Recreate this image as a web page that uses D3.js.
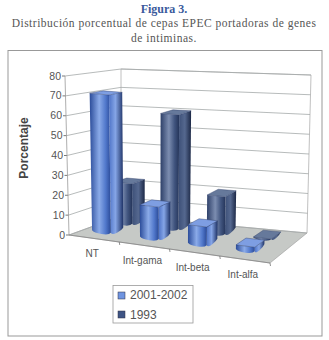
<!DOCTYPE html>
<html>
<head>
<meta charset="utf-8">
<script src="https://cdn.jsdelivr.net/npm/d3@7"></script>
<style>
body { margin: 0; background: #fff; }
svg { display: block; }
</style>
</head>
<body>
<svg id="chart"></svg>
<script>
const categories = ["NT", "Int-gama", "Int-beta", "Int-alfa"]
const seriesNames = ["2001-2002", "1993"]
const values2001 = [71, 17, 10, 3]
const values1993 = [22, 60, 20, 1]
const yTicks = [0, 10, 20, 30, 40, 50, 60, 70, 80]

const w = 329
const h = 340

const svg = d3.select("#chart").attr("width", w).attr("height", h)
const defs = svg.append("defs")

// corners of the 3d box, [x, y] on screen: front/back, left/right, floor/top
const box = {
    flb: [69, 235], frb: [270, 263], blb: [121, 216], brb: [307, 233],
    flt: [65, 76], frt: [274, 98], blt: [121, 69], brt: [311, 75]
}

const lerp = (a, b, t) => [a[0] + (b[0] - a[0]) * t, a[1] + (b[1] - a[1]) * t]

// u along categories, d into the depth, v up the value axis (all 0..1)
function project(u, d, v){
    const front = lerp(lerp(box.flb, box.frb, u), lerp(box.flt, box.frt, u), v)
    const back = lerp(lerp(box.blb, box.brb, u), lerp(box.blt, box.brt, u), v)
    return lerp(front, back, d)
}

const uScale = d3.scaleBand().domain(categories).range([-0.015, 0.955])
const dScale = d3.scaleBand().domain(seriesNames).range([0.22, 0.9]).paddingInner(0.42)
const vScale = d3.scaleLinear().domain([0, 80]).range([0, 1])
const barWidth = 0.095

const line = d3.line()
const pathOf = pts => line(pts) + "Z"

function gradient(id, stops){
    const g = defs.append("linearGradient").attr("id", id)
    stops.forEach(s => g.append("stop").attr("offset", s[0]).attr("stop-color", s[1]))
}
gradient("front0", [[0, "#2b4c9a"], [0.45, "#8aaae8"], [0.75, "#5279cc"], [1, "#2a4a98"]])
gradient("side0", [[0, "#4f74c8"], [0.45, "#85a5e6"], [1, "#1e3266"]])
gradient("front1", [[0, "#2d3f68"], [0.45, "#7c8db0"], [0.75, "#41557f"], [1, "#25355a"]])
gradient("side1", [[0, "#3d5078"], [0.5, "#55688f"], [1, "#1c2846"]])

const colorTop = ["#7e9ee2", "#66799b"]
const colorSwatch = ["#6f94e0", "#3e5484"]

const chart = svg.append("g")

// frame
svg.append("rect")
    .attr("x", 8).attr("y", 50.5).attr("width", 314).attr("height", 285.5)
    .attr("fill", "none").attr("stroke", "#999").attr("stroke-width", 1)

// floor and walls
chart.append("path")
    .attr("d", pathOf([project(0, 0, 0), project(1, 0, 0), project(1, 1, 0), project(0, 1, 0)]))
    .attr("fill", "#c6c9c6").attr("stroke", "#9a9a9a").attr("stroke-width", 0.6)

chart.append("path")
    .attr("d", line([project(0, 1, 0), project(0, 1, 1), project(1, 1, 1), project(1, 1, 0)]))
    .attr("fill", "none").attr("stroke", "#b0b0b0").attr("stroke-width", 0.8)

yTicks.forEach(t => {
    const v = vScale(t)
    chart.append("path")
        .attr("d", line([project(0, 0, v), project(0, 1, v), project(1, 1, v)]))
        .attr("fill", "none").attr("stroke", "#a5aaaa").attr("stroke-width", 0.8)

    const p = project(0, 0, v)
    chart.append("path")
        .attr("d", line([[p[0] - 3, p[1]], p]))
        .attr("stroke", "#555").attr("stroke-width", 0.8)
    chart.append("text")
        .attr("x", p[0] - 4).attr("y", p[1] + 3.5)
        .attr("text-anchor", "end")
        .attr("font-family", "Liberation Sans").attr("font-size", 10.5).attr("fill", "#555")
        .text(t)
})

// axis lines
chart.append("path")
    .attr("d", line([project(0, 0, 0), project(0, 0, 1)]))
    .attr("stroke", "#999").attr("stroke-width", 0.8)

chart.append("path")
    .attr("d", line([project(0, 0, 0), project(1, 0, 0)]))
    .attr("stroke", "#888").attr("stroke-width", 0.8)

categories.forEach((c, i) => {
    const p = project((i + 1) / categories.length, 0, 0)
    chart.append("path")
        .attr("d", line([p, [p[0] + 0.5, p[1] + 3]]))
        .attr("stroke", "#777").attr("stroke-width", 0.8)

    const l = project((i + 0.5) / categories.length, 0, 0)
    chart.append("text")
        .attr("x", l[0] - 2).attr("y", l[1] + 18)
        .attr("text-anchor", "middle")
        .attr("font-family", "Liberation Sans").attr("font-size", 10).attr("fill", "#555")
        .text(c)
})

// face with a soft rounded bottom edge, a/b are the floor corners
function facePath(a, b, bTop, aTop){
    const p = d3.path()
    p.moveTo(aTop[0], aTop[1])
    p.lineTo(a[0], a[1] - 2)
    p.quadraticCurveTo(a[0] + (b[0] - a[0]) * 0.1, a[1] + 0.5, (a[0] + b[0]) / 2, (a[1] + b[1]) / 2 + 0.5)
    p.quadraticCurveTo(b[0] - (b[0] - a[0]) * 0.1, b[1] + 0.5, b[0], b[1] - 2)
    p.lineTo(bTop[0], bTop[1])
    p.closePath()
    return p.toString()
}

function drawBar(cat, name, value, s){
    const uc = uScale(cat) + uScale.bandwidth() / 2
    const u0 = uc - barWidth / 2
    const u1 = uc + barWidth / 2
    const d0 = dScale(name)
    const d1 = d0 + dScale.bandwidth()
    const v = vScale(value)
    const g = chart.append("g")

    g.append("path")
        .attr("d", facePath(project(u1, d0, 0), project(u1, d1, 0), project(u1, d1, v), project(u1, d0, v)))
        .attr("fill", `url(#side${s})`)
    g.append("path")
        .attr("d", facePath(project(u0, d0, 0), project(u1, d0, 0), project(u1, d0, v), project(u0, d0, v)))
        .attr("fill", `url(#front${s})`)
    g.append("path")
        .attr("d", pathOf([project(u0, d0, v), project(u1, d0, v), project(u1, d1, v), project(u0, d1, v)]))
        .attr("fill", colorTop[s]).attr("stroke", "#2a3a66").attr("stroke-width", 0.4)
}

// back row first so the front row covers it
categories.forEach((c, i) => drawBar(c, seriesNames[1], values1993[i], 1))
categories.forEach((c, i) => drawBar(c, seriesNames[0], values2001[i], 0))

// y title
svg.append("text")
    .attr("transform", "translate(28,148) rotate(-90)")
    .attr("text-anchor", "middle")
    .attr("font-family", "Liberation Sans").attr("font-size", 12).attr("font-weight", "bold").attr("fill", "#444")
    .text("Porcentaje")

// legend
const legend = svg.append("g")
legend.append("rect")
    .attr("x", 113).attr("y", 285.5).attr("width", 80).attr("height", 37.5)
    .attr("fill", "#fff").attr("stroke", "#999").attr("stroke-width", 0.8)

seriesNames.forEach((n, i) => {
    legend.append("rect")
        .attr("x", 118).attr("y", 292 + i * 19).attr("width", 7).attr("height", 7)
        .attr("fill", colorSwatch[i]).attr("stroke", "#334").attr("stroke-width", 0.5)
    legend.append("text")
        .attr("x", 130).attr("y", 299 + i * 19.5)
        .attr("font-family", "Liberation Sans").attr("font-size", 12).attr("fill", "#555")
        .text(n)
})

// titles
svg.append("text")
    .attr("x", 164).attr("y", 13).attr("text-anchor", "middle")
    .attr("font-family", "Liberation Serif").attr("font-size", 12).attr("font-weight", "bold").attr("fill", "#3a5a9c")
    .text("Figura 3.")

const subtitle = ["Distribución porcentual de cepas EPEC portadoras de genes", "de intiminas."]
subtitle.forEach((t, i) => {
    svg.append("text")
        .attr("x", 164).attr("y", 27 + i * 15).attr("text-anchor", "middle")
        .attr("font-family", "Liberation Serif").attr("font-size", 11.5).attr("letter-spacing", 0.5).attr("fill", "#555")
        .text(t)
})
</script>
</body>
</html>
